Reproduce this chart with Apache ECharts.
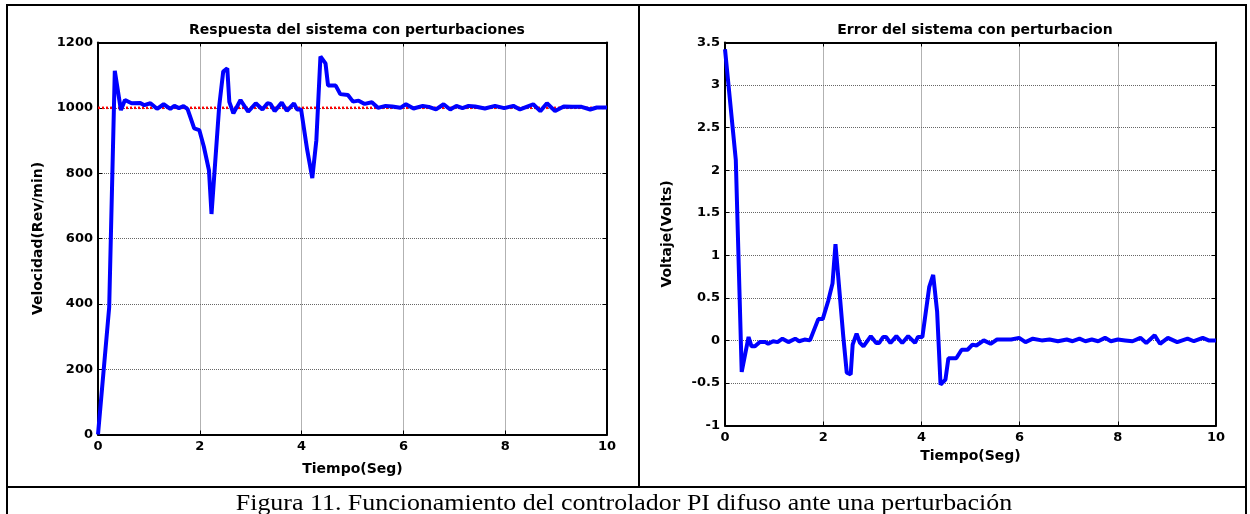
<!DOCTYPE html>
<html>
<head>
<meta charset="utf-8">
<script src="https://cdn.jsdelivr.net/npm/echarts@6/dist/echarts.min.js"></script>
<style>
html,body{margin:0;padding:0;background:#fff;}
#c{width:1250px;height:514px;}
</style>
</head>
<body>
<div id="c"></div>
<script>
// Left chart: speed response
const speedT = [0,0.22,0.33,0.45,0.53,0.66,0.83,0.91,1.03,1.16,1.29,1.42,1.5,1.59,1.68,1.76,1.89,1.99,2.08,2.18,2.23,2.38,2.46,2.54,2.58,2.66,2.80,2.95,3.10,3.23,3.33,3.39,3.47,3.61,3.71,3.85,3.91,3.99,4.11,4.21,4.29,4.37,4.47,4.52,4.67,4.76,4.91,5.01,5.12,5.24,5.38,5.50,5.65,5.78,5.94,6.05,6.20,6.38,6.50,6.64,6.79,6.92,7.04,7.16,7.28,7.41,7.60,7.80,7.98,8.16,8.29,8.42,8.55,8.69,8.82,8.98,9.15,9.32,9.50,9.67,9.80,10];
const speedV = [0,390,1113,993,1024,1014,1015,1008,1014,997,1011,997,1006,999,1005,996,937,932,881,809,675,1003,1111,1121,1018,983,1024,988,1014,995,1014,1012,990,1016,991,1014,995,995,871,785,901,1157,1136,1068,1068,1042,1039,1019,1022,1012,1017,1000,1006,1004,1000,1011,998,1006,1003,995,1011,995,1006,999,1006,1004,998,1006,999,1006,995,1003,1011,990,1014,990,1004,1003,1003,995,1001,1001];
const refT = [0,10];
const refV = [1000,1000];
// Right chart: error
const errT = [0,0.22,0.34,0.48,0.54,0.61,0.71,0.82,0.88,0.98,1.07,1.17,1.29,1.43,1.51,1.62,1.73,1.90,1.99,2.10,2.19,2.25,2.41,2.48,2.56,2.60,2.68,2.75,2.82,2.97,3.08,3.14,3.22,3.28,3.37,3.49,3.61,3.73,3.87,3.93,4.02,4.16,4.24,4.32,4.39,4.49,4.55,4.71,4.82,4.94,5.04,5.12,5.27,5.41,5.54,5.68,5.83,5.99,6.12,6.27,6.45,6.61,6.78,6.96,7.08,7.22,7.34,7.47,7.60,7.74,7.86,8.0,8.15,8.30,8.46,8.58,8.75,8.86,9.02,9.21,9.42,9.55,9.73,9.85,10];
const errV = [3.42,2.12,-0.37,0.04,-0.07,-0.07,-0.02,-0.02,-0.04,-0.01,-0.02,0.02,-0.02,0.02,-0.01,0.01,0.0,0.25,0.25,0.46,0.67,1.13,0.04,-0.38,-0.40,-0.05,0.08,-0.03,-0.07,0.05,-0.03,-0.03,0.04,0.04,-0.03,0.05,-0.03,0.05,-0.03,0.04,0.04,0.63,0.77,0.34,-0.52,-0.46,-0.21,-0.21,-0.11,-0.11,-0.05,-0.06,0.0,-0.04,0.01,0.01,0.01,0.03,-0.02,0.02,0.0,0.01,-0.01,0.01,-0.01,0.02,-0.01,0.01,-0.01,0.03,-0.01,0.01,0.0,-0.01,0.03,-0.03,0.06,-0.04,0.03,-0.02,0.02,-0.01,0.03,0.0,0.0];

const titleLeft = 'Respuesta del sistema con perturbaciones';
const titleRight = 'Error del sistema con perturbacion';
const xName = 'Tiempo(Seg)';
const yNameLeft = 'Velocidad(Rev/min)';
const yNameRight = 'Voltaje(Volts)';
const caption = 'Figura 11. Funcionamiento del controlador PI difuso ante una perturbación';

const zip = (a, b) => a.map((v, i) => [v, b[i]]);
const FONT = '"DejaVu Sans", Verdana, sans-serif';
const labelStyle = {color:'#000', fontFamily:FONT, fontWeight:'bold', fontSize:13};
const nameStyle = {color:'#000', fontFamily:FONT, fontWeight:'bold', fontSize:14};
const axLine = {show:true, onZero:false, lineStyle:{color:'#000', width:2}};
const tick = {show:true, inside:true, length:4, lineStyle:{color:'#000', width:1}};
const split = {show:true, lineStyle:{color:'#666', width:1, type:[1,1]}};
const plainNum = v => String(v);

function mainX(g, nameGap){
  return {type:'value', gridIndex:g, min:0, max:10, interval:2, position:'bottom',
    axisLine:axLine, axisTick:tick, splitLine:split,
    axisLabel:Object.assign({margin:6, formatter:plainNum}, labelStyle),
    name:xName, nameLocation:'middle', nameGap:nameGap, nameTextStyle:nameStyle};
}
function topX(g){
  return {type:'value', gridIndex:g, min:0, max:10, interval:2, position:'top',
    axisLine:axLine, axisTick:tick, splitLine:{show:false}, axisLabel:{show:false}};
}
function mainY(g, min, max, interval, name, nameGap){
  return {type:'value', gridIndex:g, min:min, max:max, interval:interval, position:'left',
    axisLine:axLine, axisTick:tick, splitLine:split,
    axisLabel:Object.assign({margin:5, formatter:plainNum}, labelStyle),
    name:name, nameLocation:'middle', nameGap:nameGap, nameRotate:90, nameTextStyle:nameStyle};
}
function rightY(g, min, max, interval){
  return {type:'value', gridIndex:g, min:min, max:max, interval:interval, position:'right',
    axisLine:axLine, axisTick:tick, splitLine:{show:false}, axisLabel:{show:false}};
}

const chart = echarts.init(document.getElementById('c'), null, {renderer:'canvas'});
chart.setOption({
  backgroundColor:'#fff',
  animation:false,
  title:[
    {text:titleLeft, left:352, top:18, textAlign:'center', textStyle:{fontFamily:FONT, fontWeight:'bold', fontSize:14, color:'#000'}},
    {text:titleRight, left:970, top:18, textAlign:'center', textStyle:{fontFamily:FONT, fontWeight:'bold', fontSize:14, color:'#000'}}
  ],
  grid:[
    {left:98, top:42.5, width:509, height:392, containLabel:false},
    {left:725, top:42.5, width:491, height:383, containLabel:false}
  ],
  xAxis:[mainX(0, 28), topX(0), mainX(1, 22), topX(1)],
  yAxis:[mainY(0, 0, 1200, 200, yNameLeft, 53), rightY(0, 0, 1200, 200),
         mainY(1, -1, 3.5, 0.5, yNameRight, 51), rightY(1, -1, 3.5, 0.5)],
  series:[
    {type:'line', xAxisIndex:0, yAxisIndex:0, data:zip(refT, refV), symbol:'none',
      lineStyle:{color:'#ff0000', width:2.5, type:[2,2]}, z:2},
    {type:'line', xAxisIndex:0, yAxisIndex:0, data:zip(speedT, speedV), symbol:'none',
      lineStyle:{color:'#0000ff', width:4}, z:3},
    {type:'line', xAxisIndex:2, yAxisIndex:2, data:zip(errT, errV), symbol:'none',
      lineStyle:{color:'#0000ff', width:4}, z:3}
  ],
  graphic:[
    {type:'rect', shape:{x:7, y:5, width:1239, height:520}, style:{fill:null, stroke:'#000', lineWidth:2}, silent:true},
    {type:'line', shape:{x1:639, y1:5, x2:639, y2:487}, style:{stroke:'#000', lineWidth:2}, silent:true},
    {type:'line', shape:{x1:7, y1:487, x2:1246, y2:487}, style:{stroke:'#000', lineWidth:2}, silent:true},
    {type:'text', x:624, y:504, scaleX:1.08, style:{text:caption, fill:'#000', font:'24px "Liberation Serif", "Times New Roman", serif', textAlign:'center', textVerticalAlign:'middle'}, silent:true}
  ]
});
</script>
</body>
</html>
